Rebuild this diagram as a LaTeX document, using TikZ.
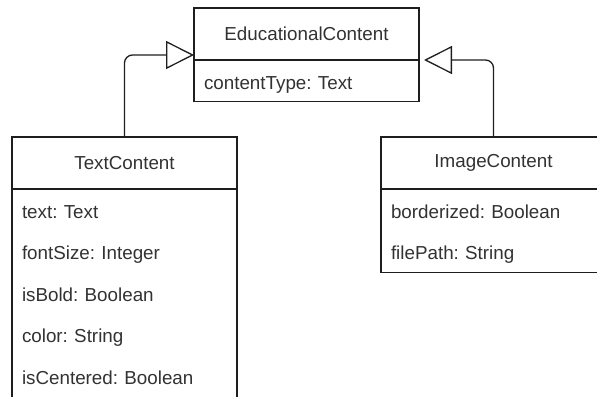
\documentclass[tikz,border=0pt]{standalone}
\usepackage{fontspec}
\setmainfont{Liberation Sans}
\usetikzlibrary{arrows.meta, positioning}
\definecolor{umltext}{RGB}{50, 50, 50}
\definecolor{umlline}{RGB}{30, 30, 30}
\frenchspacing

\begin{document}
\begin{tikzpicture}[
    x=0.5pt, y=-0.5pt,
    classhead/.style={draw=umlline, line width=0.65pt, outer sep=0pt, minimum width=112.5pt, minimum height=26pt, inner sep=0pt, font=\fontsize{9.4}{11}\selectfont, text=umltext},
    classattr/.style={draw=umlline, line width=0.65pt, outer sep=0pt, text width=102.5pt, inner xsep=5pt, inner ysep=0pt, align=left, font=\fontsize{9.4}{20.8}\selectfont, text=umltext},
    inherit/.style={-{Triangle[open, length=14pt, width=14pt]}, umlline, line width=0.65pt, rounded corners=4pt}
]
    \useasboundingbox (0,0) rectangle (597,396);
    \clip (0,0) rectangle (597,396);

    % Parent class
    \node[classhead, anchor=north west] (eduhead) at (194,8) {EducationalContent};
    \node[classattr, below=0pt of eduhead] (eduattr) {\strut contentType: Text};

    % Child classes
    \node[classhead, anchor=north west] (texthead) at (12,137) {TextContent};
    \node[classattr, below=0pt of texthead] (textattr) {\strut text: Text\\\strut fontSize: Integer\\\strut isBold: Boolean\\\strut color: String\\\strut isCentered: Boolean\par\vspace*{6pt}};

    \node[classhead, anchor=north west] (imghead) at (381,137) {ImageContent};
    \node[classattr, below=0pt of imghead] (imgattr) {\strut borderized: Boolean\\\strut filePath: String};

    % Generalization arrows
    \draw[inherit] (texthead.north) |- ([yshift=2.5pt]eduattr.north west);
    \draw[inherit, shorten >=2.5pt] (imghead.north) |- (eduattr.north east);
\end{tikzpicture}
\end{document}
